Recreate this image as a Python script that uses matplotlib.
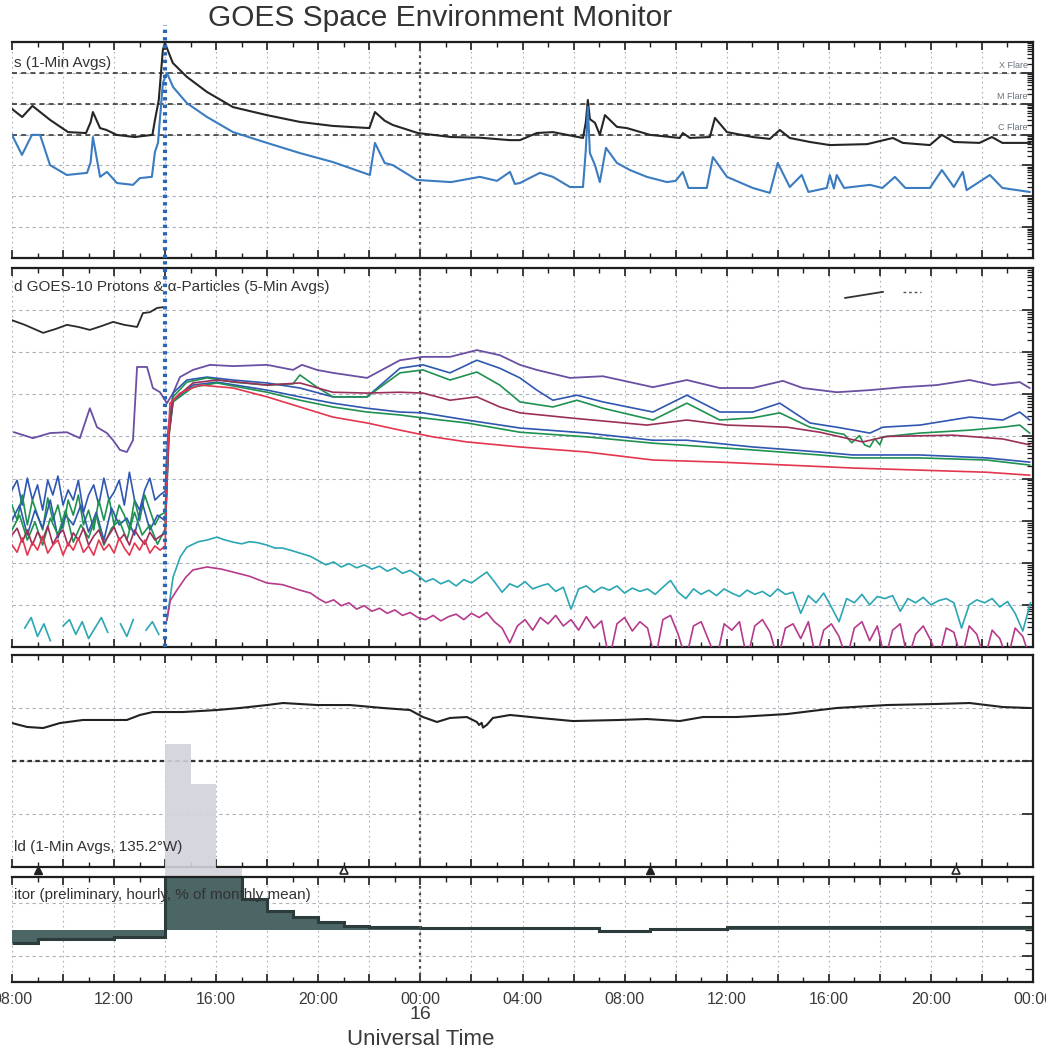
import numpy as np
import matplotlib
matplotlib.use("Agg")
import matplotlib.pyplot as plt
from matplotlib.ticker import MultipleLocator, FixedLocator, LogLocator, NullFormatter, FuncFormatter

plt.rcParams['font.family'] = ['Liberation Sans', 'DejaVu Sans']

# time in hours since 15 Apr 00:00 UT
T0, T1 = 8.0, 48.0
event_time = 14.0
day_boundary = 24.0

# ---------------- GOES X-rays, (hour, log10 flux W m^-2) ----------------
xray_long = [(8.0,-5.17),(8.4,-5.43),(8.8,-5.07),(9.5,-5.53),(10.2,-5.92),(10.9,-5.95),(11.08,-5.6),
    (11.17,-5.27),(11.45,-5.79),(11.7,-5.85),(12.1,-6.01),(12.8,-6.08),(13.5,-6.01),(13.6,-5.53),
    (13.75,-4.88),(13.91,-3.26),(13.99,-3.03),(14.3,-3.68),(14.85,-4.13),(15.64,-4.62),(16.66,-5.11),
    (17.99,-5.37),(19.28,-5.59),(20.57,-5.72),(22.0,-5.79),(22.22,-5.27),(22.6,-5.55),(22.92,-5.69),
    (23.9,-5.95),(25.2,-6.08),(26.3,-6.10),(27.5,-6.18),(27.9,-6.18),(28.56,-5.95),(29.19,-5.92),
    (30.37,-6.11),(30.48,-5.6),(30.56,-4.88),(30.64,-5.5),(30.84,-5.62),(31.03,-6.01),(31.23,-5.37),
    (31.7,-5.75),(32.09,-5.79),(33.0,-6.01),(34.16,-6.11),(34.28,-5.95),(34.56,-6.11),(35.34,-6.08),
    (35.54,-5.46),(36.01,-5.92),(37.02,-6.08),(37.69,-6.14),(38.08,-5.85),(38.47,-6.11),(39.26,-6.24),
    (40.04,-6.34),(41.5,-6.31),(42.51,-6.11),(42.9,-6.27),(43.96,-6.34),(44.43,-6.01),(44.9,-6.24),
    (45.9,-6.27),(46.39,-6.08),(46.8,-6.27),(47.9,-6.27)]
xray_short = [(8.0,-6.01),(8.39,-6.66),(8.78,-6.01),(9.10,-6.01),(9.49,-6.99),(10.15,-7.31),(10.94,-7.24),
    (11.08,-6.9),(11.17,-6.08),(11.45,-7.37),(11.72,-7.21),(12.11,-7.57),(12.74,-7.63),(13.01,-7.41),
    (13.48,-7.37),(13.60,-6.56),(13.72,-6.27),(13.91,-4.33),(14.07,-4.00),(14.31,-4.46),(14.85,-4.98),
    (15.64,-5.43),(16.66,-5.92),(17.99,-6.27),(19.28,-6.60),(20.57,-6.89),(22.02,-7.31),(22.22,-6.27),
    (22.6,-6.92),(22.92,-6.99),(23.86,-7.47),(25.2,-7.54),(26.33,-7.37),(27.0,-7.5),(27.51,-7.21),
    (27.7,-7.6),(27.90,-7.57),(28.68,-7.24),(29.19,-7.37),(29.86,-7.70),(30.37,-7.70),(30.48,-6.5),
    (30.56,-5.11),(30.64,-6.6),(30.84,-6.99),(31.03,-7.54),(31.27,-6.43),(31.70,-6.92),(32.21,-7.15),
    (32.87,-7.37),(33.66,-7.54),(34.0,-7.5),(34.28,-7.21),(34.5,-7.73),(35.22,-7.73),(35.46,-6.73),
    (36.01,-7.37),(37.02,-7.73),(37.69,-7.89),(38.00,-6.92),(38.47,-7.70),(38.94,-7.31),(39.2,-7.86),
    (39.92,-7.73),(40.04,-7.31),(40.2,-7.75),(40.31,-7.31),(40.6,-7.73),(41.61,-7.63),(42.1,-7.73),
    (42.59,-7.37),(43.0,-7.73),(43.96,-7.73),(44.43,-7.15),(44.9,-7.70),(45.25,-7.21),(45.4,-7.80),
    (46.31,-7.31),(46.8,-7.73),(47.87,-7.86)]
flare_levels = [1e-4, 1e-5, 1e-6]
flare_names = ['X Flare', 'M Flare', 'C Flare']

# ---------------- GOES protons (log10 p cm^-2 s^-1 sr^-1 MeV^-1) ----------------
pre30_t = np.arange(30) * 0.2 + 8.0
pre20_t = np.arange(20) * 0.3 + 8.0
pre24_t = np.arange(24) * 0.25 + 8.0
late_t = np.arange(94) * 0.3 + 20.0

p_black = [(8.0,2.76),(8.5,2.65),(9.22,2.46),(9.7,2.55),(10.15,2.65),(10.6,2.6),(11.05,2.53),(11.5,2.62),
    (11.96,2.72),(12.4,2.65),(12.90,2.60),(13.13,2.93),(13.4,2.95),(13.68,3.05),(13.91,3.07),(14.0,3.05)]
p_purple = [(8.08,0.10),(8.82,-0.04),(9.49,0.08),(10.15,0.10),(10.66,-0.04),(11.05,0.67),(11.33,0.22),
    (11.72,0.08),(11.96,-0.09),(12.23,-0.32),(12.50,-0.37),(12.74,-0.09),(12.90,1.65),(13.29,1.65),
    (13.52,1.15),(13.80,1.05),(14.07,0.79),(14.31,1.03),(14.58,1.41),(15.09,1.58),(15.76,1.70),(16.66,1.67),
    (17.99,1.70),(19.01,1.58),(19.36,1.70),(19.95,1.58),(20.57,1.51),(21.91,1.39),(23.20,1.81),(24.10,1.89),
    (25.16,1.89),(26.21,2.05),(27.11,1.93),(27.90,1.70),(28.56,1.58),(29.86,1.39),(31.15,1.43),(33.11,1.17),
    (34.44,1.34),(35.73,1.15),(37.02,1.15),(38.20,1.32),(38.98,1.15),(40.31,1.05),(41.61,1.10),(42.90,1.17),
    (44.23,1.22),(45.52,1.34),(46.43,1.22),(47.48,1.29),(47.87,1.15)]

p_blue1_pre = [-1.27,-1.04,-1.63,-0.99,-1.51,-1.15,-1.75,-1.04,-1.39,-0.94,-1.63,-1.27,-1.51,-1.04,-1.80,
    -1.39,-1.15,-1.63,-0.99,-1.51,-1.32,-1.04,-1.63,-0.85,-1.51,-1.75,-1.27,-0.99,-1.51,-1.39]
p_blue1 = [(14.0,-1.3),(14.12,0.2),(14.31,1.03),(14.85,1.34),(15.64,1.41),(16.66,1.34),(17.99,1.27),
    (19.28,1.15),(20.57,0.94),(21.91,0.94),(23.20,1.62),(24.10,1.70),(25.16,1.51),(26.21,1.81),(27.11,1.62),
    (27.90,1.39),(28.56,1.10),(29.19,0.86),(30.13,0.98),(31.15,0.82),(33.11,0.58),(34.44,0.98),(35.73,0.58),
    (37.02,0.58),(38.08,0.79),(39.26,0.32),(40.31,0.22),(41.61,0.08),(42.12,0.22),(43.57,0.27),(45.52,0.46),
    (46.82,0.39),(47.48,0.58),(47.87,0.39)]

p_green1_pre = [-1.63,-1.99,-1.39,-2.10,-1.51,-1.87,-2.22,-1.46,-1.99,-1.63,-2.18,-1.51,-1.87,-1.39,-2.10,
    -1.75,-2.22,-1.51,-1.99,-1.46,-2.10,-1.63,-1.87,-2.22,-1.51,-1.99,-1.39,-1.75,-2.10,-1.87]
p_green1 = [(14.0,-1.8),(14.14,0.1),(14.31,0.94),(14.85,1.29),(15.64,1.39),(16.66,1.29),(17.99,1.22),
    (19.01,1.25),(19.28,1.46),(19.95,1.17),(20.57,0.94),(21.91,0.94),(23.20,1.51),(24.10,1.58),(25.16,1.34),
    (26.21,1.53),(27.11,1.22),(27.90,0.82),(29.19,0.70),(30.13,0.86),(31.15,0.67),(33.11,0.39),(34.44,0.79),
    (35.73,0.39),(37.02,0.44),(38.08,0.56),(39.26,0.22),(40.31,0.08),(40.6,0.05),(40.9,-0.15),(41.2,0.02),
    (41.4,-0.2),(41.61,-0.25),(41.8,-0.05),(42.0,-0.2),(42.12,-0.01),(43.57,0.08),(45.52,0.15),(46.82,0.22),
    (47.48,0.27),(47.87,0.08)]

p_dred_pre = [-2.34,-2.18,-2.51,-2.22,-2.58,-2.27,-2.46,-2.13,-2.56,-2.34,-2.22,-2.60,-2.29,-2.46,-2.18,
    -2.58,-2.37,-2.22,-2.53,-2.34,-2.15,-2.46,-2.32,-2.58,-2.22,-2.41,-2.56,-2.27,-2.46,-2.37]
p_dred = [(14.0,-2.3),(14.14,0.0),(14.31,0.86),(15.09,1.27),(16.03,1.34),(17.99,1.22),(19.28,1.27),
    (20.57,1.05),(21.91,1.03),(23.20,1.05),(24.10,1.03),(25.16,0.86),(26.21,0.94),(27.11,0.70),(27.90,0.56),
    (29.86,0.44),(32.87,0.27),(34.44,0.39),(36.01,0.27),(38.36,0.22),(39.65,0.10),(41.33,-0.13),(42.27,0.00),
    (44.86,0.03),(46.82,-0.06),(47.87,-0.20)]

p_blue2_pre = [-1.99,-1.63,-2.34,-1.75,-2.18,-1.51,-2.41,-1.87,-2.10,-1.63,-2.27,-1.80,-2.46,-1.70,-2.10,
    -1.94,-2.34,-1.56,-2.22,-1.87]
p_blue2 = [(14.0,-2.0),(14.15,0.1),(14.31,0.86),(15.09,1.22),(16.03,1.29),(17.99,1.10),(19.28,0.94),
    (20.57,0.79),(21.91,0.67),(23.20,0.58),(24.10,0.56),(25.82,0.39),(27.90,0.20),(30.52,0.08),(33.11,-0.09),
    (34.44,-0.09),(37.02,-0.25),(39.65,-0.37),(40.94,-0.44),(43.57,-0.44),(46.19,-0.51),(47.87,-0.61)]

p_green2_pre = [-2.22,-1.87,-2.46,-2.03,-2.58,-1.94,-2.34,-1.75,-2.51,-2.10,-2.41,-1.87,-2.58,-2.18,-1.99,
    -2.46,-1.80,-2.34,-2.10,-2.56]
p_green2 = [(14.0,-2.2),(14.15,0.0),(14.31,0.82),(15.09,1.17),(16.03,1.27),(17.99,1.05),(19.28,0.86),
    (20.57,0.70),(21.91,0.58),(23.20,0.51),(24.10,0.44),(25.82,0.32),(27.90,0.10),(30.52,-0.01),(33.11,-0.16),
    (37.02,-0.32),(39.65,-0.44),(40.94,-0.51),(43.57,-0.51),(46.19,-0.56),(47.87,-0.68)]

p_red_pre = [-2.58,-2.75,-2.41,-2.82,-2.51,-2.70,-2.37,-2.77,-2.58,-2.46,-2.82,-2.53,-2.70,-2.41,-2.75,
    -2.60,-2.82,-2.46,-2.70,-2.56,-2.77,-2.41,-2.65,-2.82,-2.53,-2.70,-2.46,-2.77,-2.60,-2.70]
p_red = [(14.0,-2.6),(14.1,-0.3),(14.19,0.79),(14.58,1.03),(15.36,1.22),(16.66,1.15),(17.99,0.94),
    (19.28,0.70),(20.57,0.46),(21.91,0.32),(23.20,0.15),(24.49,-0.01),(25.82,-0.13),(27.90,-0.25),
    (30.52,-0.37),(33.11,-0.56),(35.73,-0.61),(38.36,-0.68),(40.94,-0.75),(43.57,-0.80),(46.19,-0.85),
    (47.87,-0.92)]

p_cyan_pre = [-4.40,np.nan,-4.55,-4.30,-4.75,-4.45,-4.85,np.nan,-4.50,-4.35,-4.70,-4.40,-4.80,-4.55,-4.30,
    -4.65,np.nan,-4.45,-4.75,-4.35,np.nan,-4.60,-4.40,-4.70]
p_cyan_early = [(14.07,-4.36),(14.31,-3.34),(14.6,-2.85),(14.85,-2.63),(15.3,-2.50),(15.64,-2.46),
    (16.03,-2.39),(16.3,-2.45),(16.66,-2.51),(17.0,-2.55),(17.3,-2.50),(17.6,-2.52),(17.99,-2.58),
    (18.3,-2.65),(18.6,-2.65),(18.9,-2.70),(19.28,-2.77),(19.7,-2.85)]
p_cyan_late = [-2.95,-3.05,-2.98,-3.10,-3.02,-3.12,-3.05,-3.15,-3.08,-3.20,-3.12,-3.25,-3.18,-3.30,-3.45,
    -3.38,-3.50,-3.42,-3.55,-3.40,-3.48,-3.35,-3.22,-3.45,-3.70,-3.50,-3.58,-3.45,-3.62,-3.55,-3.50,-3.68,
    -3.58,-4.10,-3.62,-3.55,-3.70,-3.58,-3.65,-3.55,-3.72,-3.60,-3.68,-3.62,-3.75,-3.58,-3.42,-3.70,-3.85,
    -3.62,-3.75,-3.65,-3.78,-3.62,-3.72,-3.80,-3.65,-3.75,-3.68,-3.80,-3.62,-3.75,-3.70,-4.20,-3.78,-3.95,
    -3.72,-4.05,-4.40,-3.85,-3.95,-3.75,-4.00,-3.80,-3.85,-3.78,-4.15,-3.85,-3.95,-3.82,-4.00,-3.90,-3.85,
    -3.95,-4.55,-4.00,-3.88,-3.95,-3.85,-4.05,-3.92,-4.20,-4.62,-3.95]

p_mag_early = [(14.07,-4.36),(14.2,-3.9),(14.46,-3.65),(14.8,-3.35),(15.09,-3.17),(15.64,-3.10),
    (16.2,-3.15),(16.66,-3.22),(17.3,-3.32),(17.99,-3.48),(18.6,-3.52),(19.28,-3.65),(19.7,-3.72)]
p_mag_late = [-3.85,-3.95,-3.88,-4.02,-3.95,-4.10,-4.02,-4.15,-4.08,-4.20,-4.12,-4.25,-4.18,-4.30,-4.35,
    -4.25,-4.38,-4.28,-4.22,-4.35,-4.20,-4.30,-4.18,-4.40,-4.55,-4.90,-4.50,-4.35,-4.60,-4.30,-4.45,-4.25,
    -4.50,-4.35,-4.60,-4.28,-4.55,-4.38,-5.3,-4.45,-4.30,-4.62,-4.40,-4.55,-5.3,-4.35,-4.25,-4.70,-5.3,
    -4.50,-4.40,-4.85,-5.3,-4.45,-4.60,-4.40,-5.3,-4.50,-4.35,-4.65,-5.3,-4.55,-4.45,-4.80,-4.40,-5.3,
    -4.60,-4.45,-4.75,-5.3,-4.55,-4.40,-4.85,-4.50,-5.3,-4.60,-4.45,-5.3,-4.70,-4.50,-4.85,-5.3,-4.55,
    -4.65,-5.3,-4.50,-4.70,-5.3,-4.60,-4.80,-5.3,-4.55,-4.75,-5.3]

# ---------------- GOES magnetometer Hp (hour, nT) ----------------
mag_hp = [(8.0,135.8),(8.59,132.1),(9.22,131.1),(9.88,135.8),(10.78,138.7),(11.45,138.7),(12.50,138.7),
    (13.01,143.4),(13.52,146.2),(14.70,146.2),(16.03,148.1),(16.93,150.0),(17.99,152.8),(18.62,154.7),
    (19.95,152.8),(21.24,152.8),(22.53,150.0),(23.59,148.1),(24.10,141.5),(24.65,136.8),(25.16,140.6),
    (25.82,141.5),(26.21,136.8),(26.3,134.0),(26.4,136.0),(26.45,131.5),(26.6,134.0),(26.84,140.6),
    (27.51,143.4),(27.90,142.5),(28.68,140.6),(29.97,137.7),(31.81,138.7),(32.87,139.6),(34.16,137.7),
    (35.07,141.5),(36.40,141.5),(38.36,144.3),(39.65,148.1),(40.31,150.0),(42.27,152.8),(44.23,153.8),
    (45.52,154.7),(46.82,150.9),(47.87,150.0)]
midnight_t = [9.0, 33.0]
noon_t = [21.0, 45.0]

# ---------------- Neutron monitor, hourly % of monthly mean ----------------
nm_edges = np.arange(8, 49)
nm_vals = [-2.5, -1.9, -1.9, -1.9, -1.5, -1.5, 35.3, 27.7, 11.7, 5.8, 3.6, 2.3, 1.5, 0.75, 0.5, 0.5,
           0.3, 0.3, 0.3, 0.3, 0.3, 0.3, 0.3, -0.35, -0.35, 0.15, 0.15, 0.15,
           0.5, 0.5, 0.5, 0.5, 0.5, 0.5, 0.5, 0.5, 0.5, 0.5, 0.5, 0.5]


def unz(pairs):
    a = np.array(pairs, dtype=float)
    return a[:, 0], a[:, 1]


W, H = 1046, 1051
fig = plt.figure(figsize=(W / 100, H / 100), dpi=100)
fig.patch.set_facecolor('white')


def rect(top, bottom, left=12, right=1033):
    return [left / W, 1 - bottom / H, (right - left) / W, (bottom - top) / H]


ax1 = fig.add_axes(rect(42, 258))
ax2 = fig.add_axes(rect(268, 647), sharex=ax1)
ax3 = fig.add_axes(rect(655, 867), sharex=ax1)
ax4 = fig.add_axes(rect(877, 982), sharex=ax1)
axes = [ax1, ax2, ax3, ax4]

SP = '#1e1e1e'
GRID = '#a9b1ba'
TXT = '#333333'

for ax in axes:
    ax.set_xlim(T0, T1)
    ax.set_axisbelow(True)
    for s in ['top', 'bottom', 'right']:
        ax.spines[s].set_color(SP)
        ax.spines[s].set_linewidth(1.6)
    ax.spines['left'].set_visible(False)
    ax.xaxis.set_major_locator(MultipleLocator(2))
    ax.xaxis.set_minor_locator(MultipleLocator(1))
    ax.tick_params(axis='x', which='both', direction='in', top=True, bottom=True, color=SP,
                   labelbottom=False)
    ax.tick_params(axis='x', which='major', length=6, width=1.2)
    ax.tick_params(axis='x', which='minor', length=3.5, width=1.0)
    ax.yaxis.tick_right()
    ax.tick_params(axis='y', which='both', direction='in', left=False, right=True,
                   labelright=False, labelleft=False, color=SP)
    ax.tick_params(axis='y', which='major', length=8, width=1.2)
    ax.tick_params(axis='y', which='minor', length=4, width=0.9)
    ax.grid(True, axis='x', which='major', color=GRID, lw=0.8, ls=(0, (1.5, 3)))
    ax.grid(True, axis='y', which='major', color=GRID, lw=0.8, ls=(0, (3, 3)))
    ax.axvline(day_boundary, color='#4d4d4d', lw=1.6, ls=(0, (1.2, 1.8)), zorder=1.6)

# ---- Panel 1: X-rays ----
ax1.set_yscale('log')
ax1.set_ylim(1e-10, 1e-3)
ax1.yaxis.set_major_locator(LogLocator(base=10, numticks=20))
ax1.yaxis.set_minor_locator(LogLocator(base=10, subs=np.arange(2, 10), numticks=100))
ax1.yaxis.set_minor_formatter(NullFormatter())
for lev, name in zip(flare_levels, flare_names):
    ax1.axhline(lev, color='#3a3a3a', lw=1.2, ls=(0, (3, 2.5)), zorder=1.5)
    ax1.text(0.995, lev * 1.25, name, transform=ax1.get_yaxis_transform(), ha='right', va='bottom',
             fontsize=6.5, color='#6a7080')
t, v = unz(xray_long)
ax1.plot(t, 10 ** v, color='#262626', lw=1.5, zorder=3)
t, v = unz(xray_short)
ax1.plot(t, 10 ** v, color='#3b7cc0', lw=1.5, zorder=3)
ax1.text(0.002, 0.905, 's (1-Min Avgs)', transform=ax1.transAxes, ha='left', va='center',
         fontsize=11, color=TXT)
ax1.axvline(event_time, ymin=0, ymax=1.08, clip_on=False, color='#2a66b4', lw=3,
            ls=(0, (0.8, 1.0)), zorder=4)

# ---- Panel 2: protons ----
ax2.set_yscale('log')
ax2.set_ylim(1e-5, 1e4)
ax2.yaxis.set_major_locator(LogLocator(base=10, numticks=20))
ax2.yaxis.set_minor_locator(LogLocator(base=10, subs=np.arange(2, 10), numticks=100))
ax2.yaxis.set_minor_formatter(NullFormatter())

PURPLE, BLUE, GREEN, DRED, RED, CYAN, MAG = ('#6a4fa3', '#2f56b0', '#1f9150', '#9c2f58',
                                             '#e5364f', '#2aa6b4', '#b63a8c')


def proton(pre_t, pre_v, post, color):
    pt, pv = unz(post)
    tt = np.concatenate([pre_t, pt])
    vv = np.concatenate([np.array(pre_v, float), pv])
    ax2.plot(tt, 10 ** vv, color=color, lw=1.2, zorder=3)


t, v = unz(p_black)
ax2.plot(t, 10 ** v, color='#2a2a2a', lw=1.3, zorder=3)
t, v = unz(p_purple)
ax2.plot(t, 10 ** v, color=PURPLE, lw=1.3, zorder=3)
proton(pre30_t, p_blue1_pre, p_blue1, BLUE)
proton(pre30_t, p_green1_pre, p_green1, GREEN)
proton(pre20_t, p_blue2_pre, p_blue2, BLUE)
proton(pre20_t, p_green2_pre, p_green2, GREEN)
proton(pre30_t, p_dred_pre, p_dred, DRED)
proton(pre30_t, p_red_pre, p_red, RED)
ax2.plot(pre24_t, 10 ** np.array(p_cyan_pre), color=CYAN, lw=1.2, zorder=3)
t, v = unz(p_cyan_early)
ax2.plot(np.concatenate([t, late_t]), 10 ** np.concatenate([v, p_cyan_late]), color=CYAN, lw=1.2, zorder=3)
t, v = unz(p_mag_early)
ax2.plot(np.concatenate([t, late_t]), 10 ** np.concatenate([v, p_mag_late]), color=MAG, lw=1.2, zorder=3)
ax2.text(0.002, 0.95, 'd GOES-10 Protons & \u03b1-Particles (5-Min Avgs)', transform=ax2.transAxes,
         ha='left', va='center', fontsize=11, color=TXT)
ax2.axvline(event_time, ymin=0, ymax=1.03, clip_on=False, color='#2a66b4', lw=3,
            ls=(0, (0.8, 1.0)), zorder=4)
# remnant of legend keys (top right)
ax2.plot([0.816, 0.853], [0.921, 0.937], transform=ax2.transAxes, color='#333', lw=1.3)
ax2.plot([0.873, 0.89], [0.937, 0.937], transform=ax2.transAxes, color='#555', lw=1.0, ls=(0, (2, 2)))

# ---- Panel 3: magnetometer ----
ax3.set_ylim(0, 200)
ax3.yaxis.set_major_locator(FixedLocator([50, 100, 150]))
ax3.axhline(100, color='#333', lw=1.6, ls=(0, (2, 1.5)), zorder=1.5)
t, v = unz(mag_hp)
ax3.plot(t, v, color='#222', lw=1.5, zorder=3)
# figure-level text so it is drawn above the overflowing neutron-monitor bars
fig.text(0.002, 0.094, 'ld (1-Min Avgs, 135.2\u00b0W)', transform=ax3.transAxes, ha='left',
         va='center', fontsize=11, color=TXT)
tr = ax3.get_xaxis_transform()
ax3.plot(midnight_t, [-0.012] * len(midnight_t), transform=tr, ls='none', marker='^', ms=6,
         color='#222', clip_on=False, zorder=6)
ax3.plot(noon_t, [-0.012] * len(noon_t), transform=tr, ls='none', marker='^', ms=6, mfc='white',
         mec='#222', mew=1.2, clip_on=False, zorder=6)

# ---- Panel 4: neutron monitor ----
ax4.set_ylim(-10, 10)
ax4.yaxis.set_major_locator(FixedLocator([-5, 5]))
ax4.yaxis.set_minor_locator(FixedLocator([-7.5, -2.5, 0, 2.5, 7.5]))
ax4.tick_params(axis='y', which='minor', length=6)
ax4.stairs(nm_vals, nm_edges, baseline=0, fill=True, color='#d2d2dc', alpha=0.9, clip_on=False, zorder=0.8)
ax4.stairs(nm_vals, nm_edges, baseline=0, fill=True, color='#4c6565', zorder=1.2)
ax4.stairs(nm_vals, nm_edges, baseline=None, fill=False, color='#2c3c3c', lw=2.2, zorder=1.3)
ax4.text(0.002, 0.83, 'itor (preliminary, hourly, % of monthly mean)', transform=ax4.transAxes,
         ha='left', va='center', fontsize=11, color=TXT, zorder=5)

ax4.tick_params(axis='x', which='major', labelbottom=True, labelsize=11.5, labelcolor='#3a3a3a', pad=7)
ax4.xaxis.set_major_formatter(FuncFormatter(
    lambda x, p: f"{int(round(x)) % 24:02d}:00" if int(round(x)) % 4 == 0 else ""))
ax4.text(day_boundary, -0.31, '16', transform=ax4.get_xaxis_transform(), ha='center', va='center',
         fontsize=14, color='#3a3a3a')
ax4.text(day_boundary, -0.55, 'Universal Time', transform=ax4.get_xaxis_transform(), ha='center',
         va='center', fontsize=16, color='#3a3a3a')

fig.text(440 / W, 1 - 18 / H, 'GOES Space Environment Monitor', ha='center', va='center',
         fontsize=21.5, color='#333')

fig.savefig('out.png', dpi=100, facecolor='white')
